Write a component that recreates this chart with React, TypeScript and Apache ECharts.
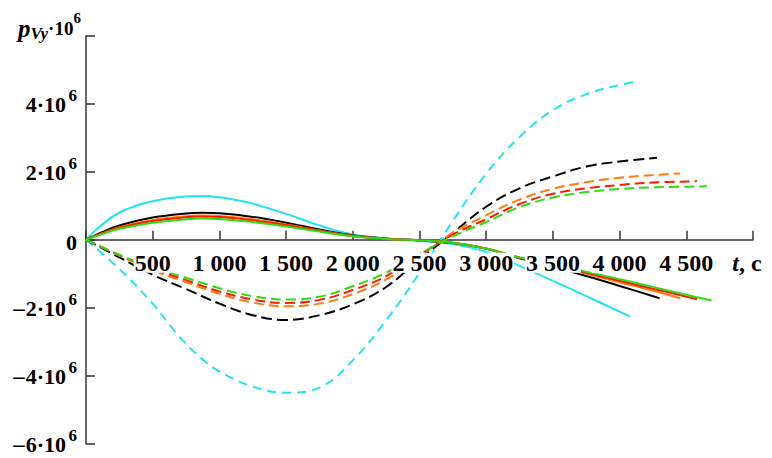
import React, { useEffect, useRef } from 'react';
import * as echarts from 'echarts';

const FONT = '"Liberation Serif", "Times New Roman", serif';

// axis ticks
const X_MIN = 0;
const X_MAX = 5000;
const X_STEP = 500;
const Y_MIN = -6;
const Y_MAX = 6;
const Y_STEP = 2;
const X_LABEL_TICKS = [500, 1000, 1500, 2000, 2500, 3000, 3500, 4000, 4500, 5000];
const Y_LABEL_TICKS = [-6, -4, -2, 0, 2, 4];

// series: [t (s), p_Vy (·10^6)]
const cyanSolid = [[0,0],[125,0.46],[250,0.8],[375,1.0],[500,1.13],[625,1.22],[750,1.27],[875,1.285],[1000,1.25],[1125,1.17],[1250,1.06],[1500,0.76],[1750,0.42],[2000,0.15],[2250,0.04],[2500,-0.03],[2750,-0.13],[3000,-0.36],[3250,-0.77],[3500,-1.21],[3750,-1.66],[4080,-2.26]];
const blackSolid = [[0,0],[125,0.23],[250,0.42],[500,0.65],[750,0.77],[875,0.79],[1000,0.775],[1250,0.67],[1500,0.5],[1750,0.3],[2000,0.13],[2250,0.03],[2500,-0.02],[2750,-0.1],[3000,-0.27],[3250,-0.55],[3500,-0.8],[3750,-1.07],[4000,-1.36],[4300,-1.72]];
const orangeSolid = [[0,0],[125,0.2],[250,0.37],[500,0.58],[750,0.69],[875,0.71],[1000,0.7],[1250,0.6],[1500,0.45],[1750,0.27],[2000,0.12],[2250,0.03],[2500,-0.02],[2750,-0.09],[3000,-0.26],[3250,-0.53],[3500,-0.76],[3750,-1.0],[4000,-1.25],[4250,-1.5],[4455,-1.72]];
const redSolid = [[0,0],[125,0.19],[250,0.35],[500,0.55],[750,0.66],[875,0.68],[1000,0.67],[1250,0.57],[1500,0.43],[1750,0.26],[2000,0.11],[2250,0.025],[2500,-0.02],[2750,-0.09],[3000,-0.26],[3250,-0.53],[3500,-0.75],[3750,-0.97],[4000,-1.21],[4250,-1.44],[4580,-1.75]];
const greenSolid = [[0,0],[125,0.17],[250,0.32],[500,0.5],[750,0.6],[875,0.62],[1000,0.61],[1250,0.52],[1500,0.39],[1750,0.24],[2000,0.1],[2250,0.02],[2500,-0.02],[2750,-0.09],[3000,-0.26],[3250,-0.52],[3500,-0.72],[3750,-0.94],[4000,-1.16],[4250,-1.39],[4500,-1.62],[4690,-1.79]];

const cyanDashed = [[0,0],[250,-0.86],[500,-1.88],[625,-2.5],[750,-3.07],[875,-3.52],[1000,-3.88],[1250,-4.32],[1500,-4.5],[1750,-4.35],[2000,-3.55],[2250,-2.37],[2500,-0.98],[2750,0.55],[3000,1.94],[3250,3.02],[3500,3.81],[3750,4.28],[4000,4.55],[4105,4.63]];
const blackDashed = [[0,0],[250,-0.52],[500,-1.03],[750,-1.45],[1000,-1.88],[1250,-2.22],[1500,-2.36],[1750,-2.22],[2000,-1.9],[2250,-1.39],[2500,-0.58],[2750,0.2],[3000,0.97],[3250,1.51],[3500,1.86],[3750,2.15],[4000,2.3],[4280,2.41]];
const orangeDashed = [[0,0],[250,-0.47],[500,-0.9],[750,-1.25],[1000,-1.59],[1250,-1.85],[1500,-1.96],[1750,-1.88],[2000,-1.6],[2250,-1.17],[2500,-0.5],[2750,0.2],[3000,0.72],[3250,1.18],[3500,1.5],[3750,1.69],[4000,1.82],[4250,1.9],[4455,1.95]];
const redDashed = [[0,0],[250,-0.45],[500,-0.85],[750,-1.19],[1000,-1.52],[1250,-1.76],[1500,-1.86],[1750,-1.77],[2000,-1.48],[2250,-1.07],[2500,-0.45],[2750,0.15],[3000,0.6],[3250,1.05],[3500,1.35],[3750,1.51],[4000,1.61],[4250,1.68],[4580,1.72]];
const greenDashed = [[0,0],[250,-0.45],[500,-0.82],[750,-1.12],[1000,-1.43],[1250,-1.66],[1500,-1.76],[1750,-1.68],[2000,-1.37],[2250,-0.97],[2500,-0.42],[2750,0.1],[3000,0.52],[3250,0.96],[3500,1.24],[3750,1.4],[4000,1.49],[4250,1.54],[4655,1.57]];

const COLORS = {
  cyan: '#22e3f2',
  black: '#000000',
  orange: '#ff7d10',
  red: '#ff1a00',
  green: '#2edc14',
};

function mk(name: string, data: number[][], color: string, dash: number[] | null) {
  return {
    type: 'line',
    name,
    data,
    showSymbol: false,
    smooth: 0.4,
    silent: true,
    z: 2,
    lineStyle: { color, width: 2, type: dash ? dash : 'solid' },
  };
}

function fmtX(v: number) {
  if (v === X_MAX) return '{i|t}{n|, c}';
  if (v >= 1000) return `${Math.floor(v / 1000)} ${String(v % 1000).padStart(3, '0')}`;
  return String(v);
}

function fmtYMain(v: number) {
  if (v === 0) return '{a|0}';
  return `${v < 0 ? '{m|\u2013}' : ''}{a|${Math.abs(v)}\u00b710}`;
}

const titleGraphic = {
  type: 'text',
  left: 18,
  top: 10,
  silent: true,
  z: 100,
  style: {
    text: '{p|p}{sub|Vy}{m|\u00b710}{sup|6}',
    fill: '#000',
    rich: {
      p: { fontFamily: FONT, fontSize: 25, fontStyle: 'italic', fontWeight: 'bold', fill: '#000', lineHeight: 32, padding: [4, 0, 0, 0] },
      sub: { fontFamily: FONT, fontSize: 17, fontStyle: 'italic', fontWeight: 'bold', fill: '#000', lineHeight: 17, verticalAlign: 'bottom' },
      m: { fontFamily: FONT, fontSize: 19, fontWeight: 'bold', fill: '#000', lineHeight: 32, padding: [4, 0, 0, 0] },
      sup: { fontFamily: FONT, fontSize: 15, fontWeight: 'bold', fill: '#000', lineHeight: 15, verticalAlign: 'top' },
    },
  },
};

export default function App() {
  const ref = useRef<HTMLDivElement>(null);
  useEffect(() => {
    const chart = echarts.init(ref.current!, null, { renderer: 'svg' });
    const axisColor = '#333';
    chart.setOption({
      animation: false,
      backgroundColor: '#fff',
      grid: { left: 86, right: 19, top: 35.7, bottom: 14.3, outerBoundsMode: 'none' },
      xAxis: {
        type: 'value',
        min: X_MIN,
        max: X_MAX,
        interval: X_STEP,
        axisLine: { show: true, onZero: true, lineStyle: { color: axisColor, width: 1.5 } },
        axisTick: { show: true, inside: true, length: 9, lineStyle: { color: axisColor, width: 1.5 } },
        splitLine: { show: false },
        axisLabel: { show: false },
      },
      yAxis: {
        type: 'value',
        min: Y_MIN,
        max: Y_MAX,
        interval: Y_STEP,
        axisLine: { show: true, onZero: true, lineStyle: { color: axisColor, width: 1.5 } },
        axisTick: { show: true, inside: true, length: 9, lineStyle: { color: axisColor, width: 1.5 } },
        splitLine: { show: false },
        axisLabel: { show: false },
      },
      graphic: [titleGraphic],
      series: [
        mk('cyan-solid', cyanSolid, COLORS.cyan, null),
        mk('cyan-dashed', cyanDashed, COLORS.cyan, [9, 6]),
        mk('black-solid', blackSolid, COLORS.black, null),
        mk('black-dashed', blackDashed, COLORS.black, [11, 5]),
        mk('orange-solid', orangeSolid, COLORS.orange, null),
        mk('orange-dashed', orangeDashed, COLORS.orange, [10, 5]),
        mk('red-solid', redSolid, COLORS.red, null),
        mk('red-dashed', redDashed, COLORS.red, [10, 5]),
        mk('green-solid', greenSolid, COLORS.green, null),
        mk('green-dashed', greenDashed, COLORS.green, [10, 5]),
      ],
    });

    // x-axis tick labels placed through the chart's own scale (white boxes hide the curves, as in the reference)
    const xLabels = X_LABEL_TICKS.map((t) => {
      const [px, py] = chart.convertToPixel({ xAxisIndex: 0, yAxisIndex: 0 }, [t, 0]) as number[];
      const isUnit = t === X_MAX;
      return {
        type: 'text',
        x: isUnit ? px - 6 : px,
        y: py + 13,
        z: 100,
        silent: true,
        style: {
          text: fmtX(t),
          x: 0,
          y: 0,
          align: 'center',
          verticalAlign: 'top',
          fontFamily: FONT,
          fontSize: 24,
          fontWeight: 'bold',
          lineHeight: 20,
          fill: '#000',
          backgroundColor: isUnit ? undefined : '#fff',
          padding: [0, 1],
          rich: {
            i: { fontFamily: FONT, fontSize: 24, fontStyle: 'italic', fontWeight: 'bold', fill: '#000', lineHeight: 20 },
            n: { fontFamily: FONT, fontSize: 24, fontWeight: 'bold', fill: '#000', lineHeight: 20 },
          },
        },
      };
    });

    // y-axis tick labels: mantissa and the superscript exponent
    const yLabels: any[] = [];
    Y_LABEL_TICKS.forEach((v) => {
      const [, py] = chart.convertToPixel({ xAxisIndex: 0, yAxisIndex: 0 }, [0, v]) as number[];
      const isZero = v === 0;
      yLabels.push({
        type: 'text',
        x: isZero ? 77 : 66,
        y: py + (isZero ? 2.5 : 1),
        z: 100,
        silent: true,
        style: {
          text: fmtYMain(v),
          x: 0,
          y: 0,
          align: 'right',
          verticalAlign: 'middle',
          fill: '#000',
          rich: {
            m: { fontFamily: FONT, fontSize: 23, fontWeight: 'bold', fill: '#000', lineHeight: 20, padding: [0, 1, 0, 0] },
            a: { fontFamily: FONT, fontSize: 22, fontWeight: 'bold', fill: '#000', lineHeight: 20 },
          },
        },
      });
      if (!isZero) {
        yLabels.push({
          type: 'text',
          x: 77,
          y: py - 8,
          z: 100,
          silent: true,
          style: {
            text: '6',
            x: 0,
            y: 0,
            align: 'right',
            verticalAlign: 'middle',
            fontFamily: FONT,
            fontSize: 17,
            fontWeight: 'bold',
            lineHeight: 16,
            fill: '#000',
          },
        });
      }
    });

    chart.setOption({ graphic: [titleGraphic, ...xLabels, ...yLabels] });

    return () => chart.dispose();
  }, []);
  return <div ref={ref} style={{ position: 'absolute', left: 0, top: 0, width: 772, height: 458 }} />;
}
